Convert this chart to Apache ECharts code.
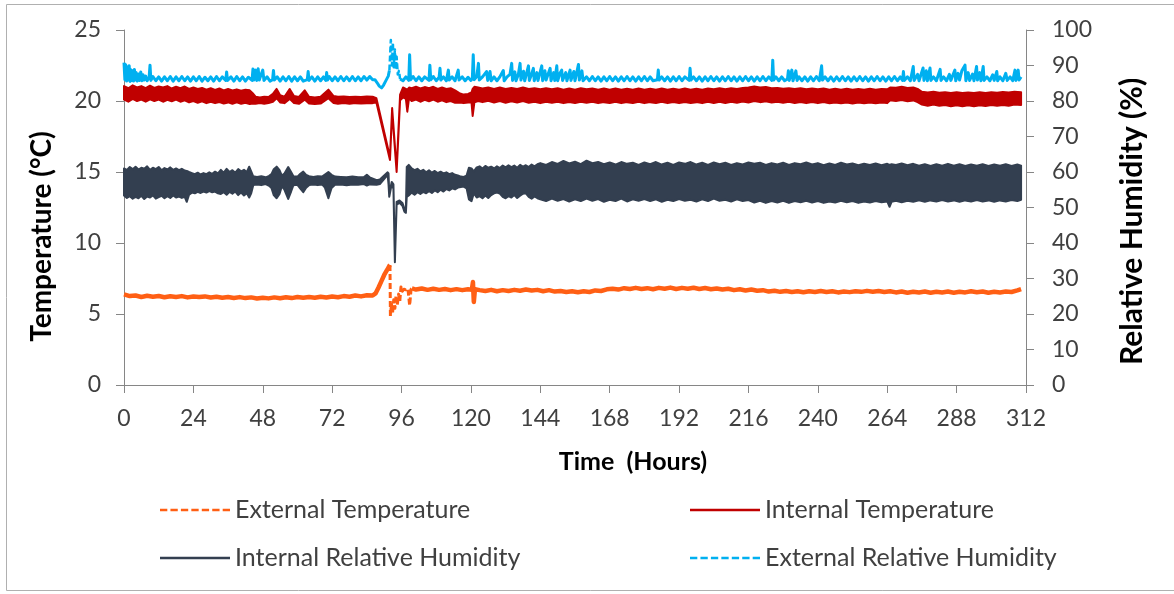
<!DOCTYPE html>
<html><head><meta charset="utf-8">
<script src="https://cdn.jsdelivr.net/npm/echarts@6/dist/echarts.min.js"></script>
<style>html,body{margin:0;padding:0;background:#fff}#c{width:1174px;height:594px}</style>
</head><body><div id="c"></div>
<script>
// ---------- DATA ----------
const hourTicks = [0, 24, 48, 72, 96, 120, 144, 168, 192, 216, 240, 264, 288, 312];
const tempTicks = [0, 5, 10, 15, 20, 25];
const rhTicks = [0, 10, 20, 30, 40, 50, 60, 70, 80, 90, 100];

// External temperature (°C): [hour, value]
const extTempBefore = [[0,6.38],[2,6.26],[4,6.3],[6,6.2],[8,6.28],[10,6.22],[12,6.27],[14,6.18],[16,6.25],[18,6.2],[20,6.26],[22,6.17],[24,6.23],[26,6.19],[28,6.24],[30,6.16],[32,6.22],[34,6.15],[36,6.2],[38,6.13],[40,6.19],[42,6.12],[44,6.17],[46,6.09],[48,6.15],[50,6.1],[52,6.17],[54,6.11],[56,6.18],[58,6.12],[60,6.2],[62,6.14],[64,6.19],[66,6.15],[68,6.22],[70,6.16],[72,6.23],[74,6.18],[76,6.26],[78,6.22],[80,6.3],[82,6.24],[84,6.32],[86,6.3],[87,6.45],[88,6.85],[89,7.3],[90,7.75],[91,8.1],[91.8,8.4],[92.0,8.45]];
const extTempEvent = [[92.0,8.45],[92.15,4.85],[92.5,5.7],[92.9,5.1],[93.3,6.0],[93.7,5.4],[94.1,6.3],[94.5,5.6],[95.0,6.4],[95.4,5.9],[95.8,6.9],[96.3,6.6],[96.8,6.75],[97.5,6.7],[98.2,6.8],[98.8,5.6],[99.3,6.75],[99.6,6.8]];
const extTempAfter = [[99.6,6.8],[101,6.72],[103,6.8],[105,6.7],[107,6.78],[109,6.7],[111,6.76],[113,6.68],[115,6.75],[117,6.68],[119,6.74],[120.3,6.7],[120.7,7.25],[121.0,5.85],[121.4,6.75],[123,6.68],[125,6.62],[127,6.7],[129,6.6],[131,6.68],[133,6.62],[135,6.7],[137,6.64],[139,6.72],[141,6.65],[143,6.7],[145,6.6],[147,6.68],[149,6.58],[151,6.62],[153,6.55],[155,6.6],[157,6.53],[159,6.6],[161,6.55],[163,6.66],[165,6.62],[167,6.74],[169,6.78],[171,6.72],[173,6.82],[175,6.76],[177,6.84],[179,6.76],[181,6.82],[183,6.74],[185,6.84],[187,6.78],[189,6.86],[191,6.76],[193,6.84],[195,6.78],[197,6.85],[199,6.76],[201,6.83],[203,6.74],[205,6.8],[207,6.72],[209,6.78],[211,6.68],[213,6.74],[215,6.66],[217,6.72],[219,6.64],[221,6.68],[223,6.58],[225,6.64],[227,6.56],[229,6.62],[231,6.55],[233,6.6],[235,6.53],[237,6.6],[239,6.55],[241,6.62],[243,6.55],[245,6.6],[247,6.52],[249,6.58],[251,6.54],[253,6.6],[255,6.56],[257,6.63],[259,6.57],[261,6.62],[263,6.55],[265,6.6],[267,6.52],[269,6.58],[271,6.5],[273,6.57],[275,6.52],[277,6.58],[279,6.5],[281,6.56],[283,6.52],[285,6.58],[287,6.5],[289,6.56],[291,6.52],[293,6.6],[295,6.53],[297,6.58],[299,6.5],[301,6.57],[303,6.52],[305,6.58],[307,6.55],[309,6.66],[310.3,6.75]];

// Internal temperature (°C): [hour, lower edge, upper edge] of the noisy trace
const intTempBand = [[0,20.1,21.05],[1.5,19.95,20.9],[3,20.15,21.1],[4.5,20.0,20.95],[6,20.1,21.05],[7.5,19.95,20.9],[9,20.12,21.08],[10.5,20.0,20.92],[12,20.1,21.02],[13.5,19.95,20.95],[15,20.08,21.05],[16.5,19.98,20.88],[18,20.1,21.0],[19.5,19.95,20.9],[21,20.05,21.02],[22.5,19.9,20.85],[24,20.0,20.95],[25.5,19.88,20.85],[27,19.98,20.92],[28.5,19.85,20.8],[30,19.95,20.9],[31.5,19.85,20.78],[33,19.92,20.88],[34.5,19.82,20.75],[36,19.9,20.85],[37.5,19.8,20.75],[39,19.9,20.82],[40.5,19.8,20.72],[42,19.88,20.8],[43.5,19.78,20.75],[44.5,19.82,20.55],[45.5,19.8,20.3],[47,19.85,20.25],[48.5,19.8,20.3],[50,19.85,20.28],[51.5,19.95,20.5],[52.8,20.2,20.85],[54,19.9,20.4],[55.5,19.85,20.3],[57.3,20.15,20.85],[58.8,19.85,20.35],[60.5,19.8,20.28],[62.5,20.1,20.75],[64,19.82,20.3],[66,19.78,20.25],[68,19.82,20.3],[70.7,20.2,20.8],[72.5,19.85,20.35],[74,19.8,20.3],[76,19.85,20.32],[78,19.8,20.28],[80,19.85,20.3],[82,19.82,20.28],[84,19.85,20.32],[86,19.85,20.3],[87.3,19.9,20.2],[92.0,15.85,16.05],[92.75,19.25,19.5],[94.3,15.0,15.2],[95.5,20.05,20.45],[96.5,20.25,20.95],[97.5,20.15,20.85],[98.0,19.25,20.8],[98.6,20.2,20.95],[99.5,20.0,20.9],[101,20.1,21.0],[102.5,19.95,20.88],[104,20.08,20.98],[105.5,19.98,20.9],[107,20.1,21.0],[108.5,19.95,20.85],[110,20.05,20.95],[111.5,19.92,20.85],[113,20.0,20.9],[114.5,19.88,20.75],[116,19.9,20.55],[117.5,19.85,20.45],[119,19.9,20.5],[120.2,19.9,20.6],[120.6,18.95,20.85],[121.2,19.9,21.0],[122.5,20.0,20.95],[124,19.92,20.88],[126,20.02,20.95],[128,19.9,20.85],[130,20.0,20.95],[132,19.88,20.85],[134,19.98,20.92],[136,19.9,20.85],[138,20.0,20.95],[140,19.88,20.85],[142,19.95,20.9],[144,19.85,20.82],[146,19.95,20.9],[148,19.88,20.82],[150,19.95,20.9],[152,19.85,20.8],[154,19.92,20.88],[156,19.85,20.8],[158,19.95,20.9],[160,19.88,20.82],[162,19.95,20.88],[164,19.85,20.8],[166,19.92,20.88],[168,19.86,20.8],[170,19.95,20.88],[172,19.85,20.8],[174,19.92,20.86],[176,19.86,20.8],[178,19.95,20.88],[180,19.85,20.8],[182,19.92,20.86],[184,19.86,20.8],[186,19.94,20.88],[188,19.85,20.8],[190,19.92,20.86],[192,19.85,20.8],[194,19.93,20.88],[196,19.86,20.8],[198,19.92,20.86],[200,19.85,20.8],[202,19.94,20.88],[204,19.86,20.82],[206,19.95,20.9],[208,19.86,20.82],[210,19.95,20.9],[212,19.88,20.85],[214,19.97,20.92],[216,19.9,20.95],[218,20.0,21.02],[220,19.92,20.95],[222,19.98,20.98],[224,19.9,20.9],[226,19.95,20.92],[228,19.88,20.86],[230,19.94,20.9],[232,19.86,20.84],[234,19.93,20.9],[236,19.85,20.82],[238,19.92,20.88],[240,19.85,20.82],[242,19.92,20.88],[244,19.84,20.8],[246,19.9,20.86],[248,19.84,20.8],[250,19.9,20.86],[252,19.83,20.8],[254,19.9,20.85],[256,19.84,20.8],[258,19.9,20.86],[260,19.84,20.8],[262,19.9,20.85],[264,19.85,20.82],[265,20.05,20.95],[267,20.0,20.93],[269,20.07,21.0],[271,19.98,20.92],[273,20.04,20.95],[274.5,19.92,20.85],[276,19.75,20.65],[278,19.66,20.6],[280,19.75,20.65],[282,19.66,20.58],[284,19.72,20.62],[286,19.63,20.56],[288,19.7,20.62],[290,19.63,20.56],[292,19.7,20.6],[294,19.63,20.56],[296,19.7,20.62],[298,19.64,20.57],[300,19.72,20.62],[302,19.66,20.58],[304,19.72,20.64],[306,19.66,20.6],[308,19.75,20.66],[310.3,19.72,20.62]];

// Internal relative humidity (%): [hour, lower edge, upper edge] of the oscillating trace
const intRhBand = [[0,53.4,61.0],[1,52.7,60.6],[2,53.2,61.4],[3,52.5,60.8],[4,53.0,61.5],[5,52.6,60.7],[6,53.3,61.2],[7,52.4,60.9],[8,53.1,61.6],[9,52.8,60.6],[10,53.4,61.2],[11,52.5,60.8],[12,52.9,61.4],[13,53.3,60.5],[14,52.6,61.1],[15,53.2,60.7],[16,52.7,61.3],[17,53.4,60.6],[18,52.8,61.0],[19,53.1,60.5],[20,52.7,60.9],[21,53.0,60.4],[21.7,51.6,60.3],[22.5,53.6,60.0],[23.5,54.2,59.7],[24.5,54.0,59.4],[25.5,54.4,59.8],[26.5,54.1,59.3],[27.5,54.5,59.7],[28.5,54.2,59.4],[29.5,54.6,59.9],[30.5,54.3,59.5],[31.5,54.5,60.1],[32.5,54.0,59.6],[33.5,53.8,60.6],[34.5,54.3,59.8],[35.5,53.6,60.9],[36.5,54.4,60.0],[37.5,53.9,60.5],[38.5,54.5,59.8],[39.5,53.5,60.8],[40.5,54.2,60.2],[41.5,53.4,60.6],[42.5,54.0,60.0],[43.3,52.8,61.5],[44.0,54.0,60.2],[44.7,56.3,58.8],[46,56.5,58.6],[47.5,56.3,58.8],[49,56.6,58.5],[50.2,56.1,58.9],[51,55.5,59.4],[51.8,53.5,60.8],[52.8,52.6,61.5],[53.8,53.8,60.5],[54.6,56.0,59.0],[55.5,55.0,59.6],[56.8,52.4,61.4],[57.8,54.5,60.0],[58.6,56.3,58.8],[60,56.4,58.7],[61,55.3,59.5],[62,54.3,60.1],[63,55.6,59.2],[64,56.3,58.8],[65.5,56.5,58.6],[67,56.3,58.8],[68.5,56.5,58.7],[69.5,55.6,59.3],[70.7,52.6,60.0],[71.8,55.5,59.2],[73,56.4,58.7],[75,56.5,58.6],[77,56.3,58.5],[79,56.5,58.7],[81,56.4,58.5],[83,56.6,58.6],[84,56.2,59.2],[85,56.5,58.5],[87.4,56.4,57.7],[88.5,56.6,57.9],[91.2,59.2,59.9],[91.5,56.5,59.6],[91.75,53.0,54.0],[92.6,56.6,57.2],[93.2,55.2,56.5],[93.7,34.6,35.6],[94.3,50.8,51.6],[95.3,51.3,52.0],[96.3,50.5,51.3],[97.0,48.8,49.6],[97.5,48.5,49.3],[97.8,53.0,61.4],[98.5,53.4,62.0],[99.5,54.2,61.0],[100.5,53.6,60.5],[101.5,54.3,60.9],[102.5,53.8,60.2],[103.5,54.4,60.6],[104.5,54.0,59.9],[105.5,54.6,60.5],[106.5,54.1,59.8],[107.5,54.8,60.3],[108.5,54.3,59.7],[109.5,55.0,60.1],[110.5,54.5,59.6],[111.5,55.2,59.9],[112.5,54.8,59.4],[113.5,55.4,59.7],[114.5,55.1,59.2],[115.5,55.6,59.0],[116.5,55.8,58.7],[117.5,55.9,58.6],[118.5,55.4,59.0],[119.3,52.3,61.2],[120.2,51.8,61.0],[121,54.0,60.2],[122,52.8,61.3],[123,53.2,61.6],[124,52.6,61.0],[125,53.4,61.7],[126,52.7,61.2],[127,53.5,61.5],[128,54.0,61.0],[129,54.2,61.6],[130,53.9,61.1],[131,53.0,61.8],[132,52.6,61.3],[133,53.2,61.9],[134,52.8,61.4],[135,53.5,61.8],[136,52.7,61.2],[137,53.3,62.0],[138,53.9,61.5],[139,54.0,61.9],[140,53.0,61.4],[141,52.5,62.1],[142,53.1,61.6],[143,52.6,62.2],[144,52.3,62.5],[146,51.8,62.0],[148,52.5,62.8],[150,51.9,62.3],[152,52.4,63.1],[154,51.7,62.4],[156,52.3,62.9],[158,51.8,62.2],[160,52.5,63.2],[162,51.9,62.5],[164,52.4,62.8],[166,51.6,62.2],[168,52.2,62.7],[170,51.8,62.1],[172,52.5,62.8],[174,51.7,62.3],[176,52.3,62.6],[178,51.9,62.0],[180,52.4,62.7],[182,51.8,62.2],[184,52.3,62.8],[186,51.6,62.1],[188,52.2,62.6],[190,51.8,62.0],[192,52.4,62.7],[194,51.9,62.3],[196,52.2,62.8],[198,51.7,62.1],[200,52.3,62.6],[202,51.8,62.0],[204,52.5,62.7],[206,51.9,62.2],[208,52.2,62.6],[210,51.7,62.0],[212,52.3,62.5],[214,51.8,62.1],[216,52.1,62.7],[218,51.4,62.3],[220,51.9,62.6],[222,51.3,62.0],[224,51.8,62.5],[226,51.4,62.1],[228,51.9,62.6],[230,51.3,62.0],[232,51.8,62.5],[234,51.5,62.2],[236,51.9,62.7],[238,51.4,62.1],[240,51.8,62.5],[242,51.3,61.9],[244,51.7,62.4],[246,51.4,62.0],[248,51.9,62.6],[250,51.5,62.1],[252,51.8,62.4],[254,51.3,61.9],[256,51.7,62.3],[258,51.4,62.0],[260,51.8,62.4],[262,51.5,61.9],[264,51.7,62.3],[264.8,50.2,62.0],[265.5,51.6,62.2],[267,51.9,62.0],[269,51.5,62.4],[271,51.9,61.9],[273,51.6,62.3],[275,52.0,61.8],[277,51.6,62.2],[279,52.0,61.7],[281,51.7,62.2],[283,52.1,61.8],[285,51.7,62.3],[287,52.0,61.8],[289,51.6,62.2],[291,52.0,61.7],[293,51.7,62.1],[295,52.1,61.8],[297,51.7,62.2],[299,52.0,61.7],[301,51.6,62.1],[303,52.0,61.8],[305,51.7,62.2],[307,52.1,61.7],[309,51.8,62.1],[310.3,52.2,61.8]];

// External relative humidity (%): [hour, value]
const extRhBefore = [[0,90.8],[0.3,86.0],[0.6,90.2],[0.9,85.6],[1.2,89.6],[1.5,85.9],[1.8,89.9],[2.1,85.5],[2.4,88.8],[2.7,85.8],[3.0,88.5],[3.3,85.6],[3.6,88.9],[3.9,85.9],[4.2,88.0],[4.6,85.6],[5.0,87.6],[5.4,85.8],[5.8,88.2],[6.2,85.7],[6.6,87.4],[7.0,85.9],[7.5,87.0],[8.0,85.7],[8.7,86.8],[9.0,90.1],[9.3,85.8],[10,86.9],[11,85.7],[12,86.8],[13,85.6],[14,86.8],[15,85.7],[16,86.9],[17,85.6],[18,86.8],[19,85.7],[20,86.9],[21,85.7],[22,86.8],[23,85.6],[24,86.8],[25,85.7],[26,86.9],[27,85.6],[28,86.7],[29,85.7],[30,86.8],[31,85.6],[32,86.9],[33,85.7],[34,86.8],[35.2,85.8],[35.5,88.2],[35.8,85.8],[37,86.8],[38,85.6],[39,86.9],[40,85.7],[41,86.8],[42,85.6],[43,86.7],[44.3,85.8],[44.6,89.0],[44.9,85.9],[45.5,88.7],[45.9,85.8],[46.4,89.1],[46.8,85.9],[47.5,87.6],[48.0,88.7],[48.4,85.8],[49.5,86.8],[50.5,85.6],[51.4,86.0],[51.7,88.6],[52.0,85.9],[53,86.8],[54,85.6],[55,86.8],[56,85.7],[57,86.9],[58,85.6],[59,86.8],[60,85.7],[61,86.8],[62,85.6],[63.4,86.0],[63.7,88.3],[64.0,85.8],[65,86.8],[66,85.6],[67,86.8],[68,85.7],[69,86.8],[69.8,85.8],[70.1,88.0],[70.4,85.9],[71,86.9],[72,85.7],[73,86.8],[74,85.7],[75,86.9],[76,85.7],[77,86.8],[78,85.7],[79,86.9],[80,85.7],[81,86.8],[82,85.7],[83,86.9],[84,85.9],[85,86.9],[86,86.0],[86.8,86.0],[87.5,85.2],[88.3,84.2],[89.1,83.7],[89.8,84.5],[90.5,85.6],[91.4,87.0],[91.8,88.6]];
const extRhEvent = [[91.8,88.6],[92.3,97.2],[92.7,90.0],[93.0,96.5],[93.3,89.5],[93.7,94.5],[94.0,88.8],[94.3,92.5],[94.7,87.5],[95.1,88.5],[95.5,86.2]];
const extRhAfter = [[95.5,86.2],[96.5,85.7],[97.5,86.8],[98.5,85.8],[98.8,93.0],[99.1,86.0],[100,86.9],[101,85.7],[102,86.8],[103,85.7],[104,86.8],[105.5,85.8],[105.8,90.1],[106.1,86.0],[107,86.9],[108,85.7],[109,86.7],[109.3,89.2],[109.6,85.9],[110.5,86.8],[111.5,85.7],[112.2,88.7],[112.5,85.9],[113.5,86.8],[114.5,85.7],[115.6,88.7],[115.9,85.9],[117,86.8],[118,85.7],[119,86.7],[120,85.8],[120.5,86.5],[120.8,93.0],[121.1,86.0],[122,86.8],[122.6,90.6],[122.9,85.9],[124,86.8],[125.4,88.3],[125.8,85.8],[126.6,88.3],[127,85.7],[128,86.8],[129,85.7],[130,86.8],[131.2,88.6],[131.5,85.7],[132.5,86.8],[133.5,87.5],[134.1,90.6],[134.4,85.8],[135.2,88.2],[135.6,85.7],[136.4,87.5],[137,90.6],[137.3,85.9],[138.2,88.4],[138.6,85.7],[139.9,89.9],[140.2,85.8],[141,87.6],[141.6,89.2],[141.9,85.7],[142.8,88.0],[143.2,85.8],[144.5,89.9],[144.8,85.7],[145.6,88.5],[146,85.9],[147.4,89.2],[147.7,85.7],[148.6,88.0],[149,85.8],[149.7,89.9],[150,85.7],[150.8,87.8],[151.4,88.7],[151.7,85.8],[152.8,88.0],[153.2,85.7],[154.3,88.7],[154.6,85.8],[155.6,88.3],[156,85.7],[157.2,90.3],[157.5,85.9],[158.4,88.5],[158.8,85.7],[160,86.8],[161,85.7],[162,86.9],[163,85.7],[164,86.8],[165,85.6],[166,86.8],[167,85.7],[168,86.9],[169,85.7],[170,86.8],[171,85.6],[172,86.8],[173,85.7],[174,86.9],[175,85.7],[176,86.8],[177,85.6],[178,86.8],[179,85.7],[180,86.9],[181,85.7],[182,86.8],[183,85.7],[184.5,86.0],[184.8,88.7],[185.1,85.9],[186,86.8],[187,85.7],[188,86.8],[189,85.6],[190,86.8],[191,85.7],[192,86.9],[193,85.7],[194,86.8],[195.5,85.8],[195.8,89.2],[196.1,85.9],[197,86.8],[198,85.7],[199,86.8],[200,85.6],[201,86.8],[202,85.7],[203,86.9],[204,85.7],[205,86.8],[206,85.6],[207,86.8],[208,85.7],[209,86.9],[210,85.7],[211,86.8],[212,85.6],[213,86.8],[214,85.7],[215,86.9],[216,85.7],[217,86.8],[218,85.6],[219,86.8],[220,85.7],[221,86.9],[222,85.7],[223,86.8],[224.1,85.8],[224.4,91.5],[224.7,85.9],[225.5,86.8],[226.5,85.7],[227.5,86.8],[228.5,85.7],[229.5,86.2],[229.8,88.5],[230.1,85.8],[231,88.7],[231.4,85.7],[232.4,88.5],[232.8,85.8],[233.5,86.8],[234.5,85.7],[235.5,86.8],[236.5,85.6],[237.5,86.8],[238.5,85.7],[239.5,86.9],[240.5,85.7],[241,86.0],[241.3,89.9],[241.6,85.9],[242.5,86.8],[243.5,85.7],[244.5,86.8],[245.5,85.6],[246.5,86.8],[247.5,85.7],[248.5,86.9],[249.5,85.7],[250.5,86.8],[251.5,85.6],[252.5,86.8],[253.5,85.7],[254.5,86.9],[255.5,85.7],[256.5,86.8],[257.5,85.6],[258.5,86.8],[259.5,85.7],[260.5,86.9],[261.5,85.7],[262.5,86.8],[263.5,85.6],[264.5,86.8],[265.5,85.7],[266.5,86.9],[267.5,85.7],[268.5,86.8],[269.3,85.8],[269.6,88.3],[269.9,85.8],[271,86.8],[272,85.7],[273,89.7],[273.3,85.8],[274.5,87.5],[275,85.7],[276.4,89.3],[276.7,85.8],[277.5,88.5],[277.9,85.7],[278.8,89.3],[279.1,85.8],[280,86.8],[281,85.7],[282.3,88.9],[282.6,85.8],[283.5,86.8],[284.5,85.7],[285.5,87.5],[286,85.8],[287.4,88.7],[287.7,85.7],[288.5,87.8],[289,85.9],[289.8,88.5],[290.9,90.1],[291.2,85.7],[292,88.0],[292.5,85.8],[293.5,87.6],[294,85.7],[294.9,89.7],[295.2,85.9],[296,88.0],[296.4,85.7],[297.2,89.7],[297.5,85.8],[298.5,86.8],[299.5,85.7],[300.5,87.4],[301,85.8],[301.9,88.3],[302.2,85.7],[303,86.8],[304,85.7],[305,87.8],[305.5,85.8],[306.5,86.8],[307.4,85.7],[308.2,88.7],[308.5,85.8],[309.3,88.7],[309.6,85.9],[310.3,86.8]];

// ---------- STYLE ----------
const F = 'Lato, "Open Sans", "Noto Sans", sans-serif';
const C_EXT_T = '#ff5f14', C_INT_T = '#c00000', C_INT_RH = '#333f50', C_EXT_RH = '#00b0f0';
const AXIS_C = '#868686', LABEL_C = '#404040';
const DASH_ICON = 'path://M0,0h7v2h-7z M10,0h7v2h-7z M20,0h7v2h-7z M30,0h7v2h-7z M40,0h7v2h-7z M50,0h7v2h-7z M60,0h7v2h-7z';

function lineSeries(name, data, yAxisIndex, color, width, dashed) {
  return {
    name, type: 'line', data, yAxisIndex, symbol: 'none', showSymbol: false,
    animation: false, silent: true, z: 4,
    lineStyle: { color, width, type: dashed ? [6, 3] : 'solid', join: 'round' },
    itemStyle: { color }
  };
}
function bandSeries(name, band, yAxisIndex, color) {
  return {
    name, type: 'custom', coordinateSystem: 'cartesian2d', yAxisIndex,
    data: band, encode: { x: 0, y: [1, 2] }, animation: false, silent: true, z: 3,
    itemStyle: { color },
    renderItem: function (params, api) {
      if (params.dataIndex !== 0) return null;
      const top = band.map(d => api.coord([d[0], d[2]]));
      const bot = band.map(d => api.coord([d[0], d[1]])).reverse();
      return { type: 'polygon', shape: { points: top.concat(bot) },
        style: { fill: color, stroke: color, lineWidth: 2, lineJoin: 'round' } };
    }
  };
}

const legendBase = {
  orient: 'horizontal', padding: 0, itemWidth: 70, itemHeight: 2.5, selectedMode: false,
  symbolKeepAspect: false,
  textStyle: { fontFamily: F, fontSize: 25, color: LABEL_C, lineHeight: 28 }
};

const chart = echarts.init(document.getElementById('c'), null, { renderer: 'canvas' });
chart.setOption({
  animation: false,
  backgroundColor: '#ffffff',
  grid: { left: 124, right: 148, top: 30, bottom: 209, containLabel: false, outerBoundsMode: 'none' },
  xAxis: {
    type: 'value', min: hourTicks[0], max: hourTicks[hourTicks.length - 1], interval: 24,
    name: 'Time  (Hours)', nameLocation: 'middle', nameGap: 64,
    nameTextStyle: { fontFamily: F, fontSize: 25, fontWeight: 'bold', color: '#000', padding: [0, 0, 0, 116] },
    axisLine: { show: true, lineStyle: { color: AXIS_C, width: 1 } },
    axisTick: { show: true, inside: false, length: 8, lineStyle: { color: AXIS_C } },
    axisLabel: { fontFamily: F, fontSize: 23, color: LABEL_C, margin: 22 },
    splitLine: { show: false }
  },
  yAxis: [{
    type: 'value', position: 'left', min: tempTicks[0], max: tempTicks[tempTicks.length - 1], interval: 5,
    name: 'Temperature (°C)', nameLocation: 'middle', nameGap: 68, nameRotate: 90,
    nameTextStyle: { fontFamily: F, fontSize: 28, fontWeight: 'bold', color: '#000', padding: [0, 58, 0, 0] },
    axisLine: { show: true, lineStyle: { color: AXIS_C, width: 1 } },
    axisTick: { show: true, inside: false, length: 8, lineStyle: { color: AXIS_C } },
    axisLabel: { fontFamily: F, fontSize: 23, color: LABEL_C, margin: 23 },
    splitLine: { show: false }
  }, {
    type: 'value', position: 'right', min: rhTicks[0], max: rhTicks[rhTicks.length - 1], interval: 10,
    name: 'Relative Humidity (%)', nameLocation: 'middle', nameGap: 91, nameRotate: 90,
    nameTextStyle: { fontFamily: F, fontSize: 30, fontWeight: 'bold', color: '#000', padding: [0, 28, 0, 0] },
    axisLine: { show: true, lineStyle: { color: AXIS_C, width: 1 } },
    axisTick: { show: true, inside: false, length: 8, lineStyle: { color: AXIS_C } },
    axisLabel: { fontFamily: F, fontSize: 23, color: LABEL_C, margin: 26 },
    splitLine: { show: false }
  }],
  legend: [
    Object.assign({}, legendBase, { left: 160, top: 496, data: [{ name: 'External Temperature', icon: DASH_ICON }] }),
    Object.assign({}, legendBase, { left: 690, top: 496, data: [{ name: 'Internal Temperature', icon: 'rect' }] }),
    Object.assign({}, legendBase, { left: 160, top: 544, data: [{ name: 'Internal Relative Humidity', icon: 'rect' }] }),
    Object.assign({}, legendBase, { left: 690, top: 544, data: [{ name: 'External Relative Humidity', icon: DASH_ICON }] })
  ],
  graphic: [{
    type: 'rect', silent: true, z: -10,
    shape: { x: 6.5, y: 4.5, width: 1200, height: 586 },
    style: { fill: null, stroke: '#b0b0b0', lineWidth: 1 }
  }],
  series: [
    bandSeries('Internal Relative Humidity', intRhBand, 1, C_INT_RH),
    bandSeries('Internal Temperature', intTempBand, 0, C_INT_T),
    lineSeries('External Relative Humidity', extRhBefore, 1, C_EXT_RH, 3, false),
    lineSeries('External Relative Humidity', extRhEvent, 1, C_EXT_RH, 2.5, true),
    lineSeries('External Relative Humidity', extRhAfter, 1, C_EXT_RH, 3, false),
    lineSeries('External Temperature', extTempBefore, 0, C_EXT_T, 4.5, false),
    lineSeries('External Temperature', extTempEvent, 0, C_EXT_T, 3, true),
    lineSeries('External Temperature', extTempAfter, 0, C_EXT_T, 4.5, false)
  ]
});
</script></body></html>
